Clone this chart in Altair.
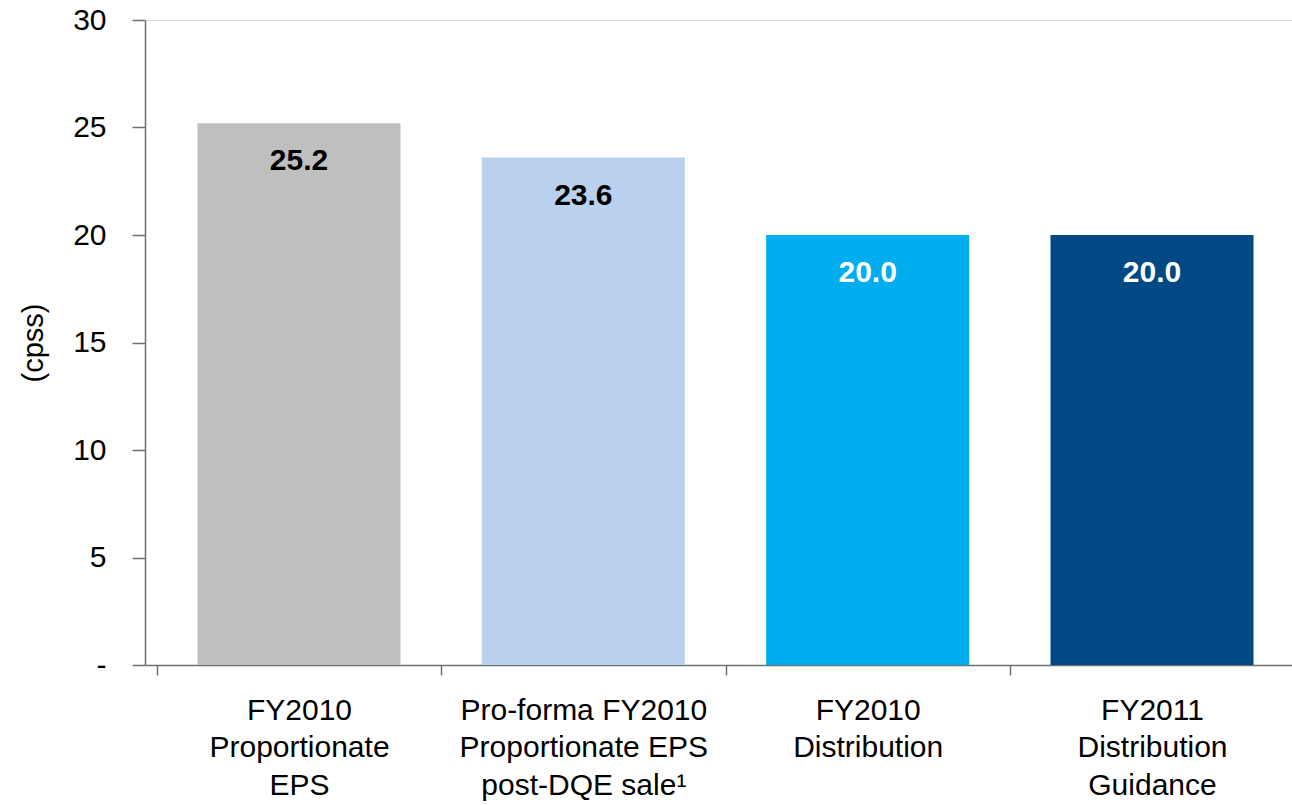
import altair as alt
import pandas as pd

# Earnings and distribution per stapled security (cents)
categories = [
    ["FY2010", "Proportionate", "EPS"],
    ["Pro-forma FY2010", "Proportionate EPS", "post-DQE sale\u00b9"],
    ["FY2010", "Distribution"],
    ["FY2011", "Distribution", "Guidance"],
]
keys = ["a", "b", "c", "d"]
values = [25.2, 23.6, 20.0, 20.0]
bar_colors = ["#BFBFBF", "#B9D0EE", "#00ADEE", "#004985"]
label_colors = ["#000000", "#000000", "#FFFFFF", "#FFFFFF"]
y_ticks = [0, 5, 10, 15, 20, 25, 30]

df = pd.DataFrame({
    "key": keys,
    "value": values,
    "label": [f"{v:.1f}" for v in values],
    "bar_color": bar_colors,
    "label_color": label_colors,
})

# Multi-line category labels looked up from the key
label_map = {k: c for k, c in zip(keys, categories)}
label_expr = " : ".join(
    [f"datum.value == '{k}' ? {c!r}" for k, c in label_map.items()]
) + " : ''"

FONT = "Liberation Sans"

x = alt.X(
    "key:N",
    sort=keys,
    scale=alt.Scale(paddingInner=0.286, paddingOuter=0.16, align=0.577),
    axis=alt.Axis(
        title=None,
        labelExpr=label_expr,
        labelAngle=0,
        labelFontSize=30,
        labelFont=FONT,
        labelColor="#000000",
        labelLineHeight=37.5,
        labelPadding=20,
        labelBaseline="top",
        tickOffset=-142,
        labelOffset=142,
        tickSize=10,
        tickColor="#707070",
        domainColor="#707070",
        tickWidth=1.5,
        domainWidth=1.5,
        labelLimit=400,
    ),
)

y_scale = alt.Scale(domain=[0, 30], nice=False, zero=True)

bars = alt.Chart(df).mark_bar().encode(
    x=x,
    y=alt.Y(
        "value:Q",
        scale=y_scale,
        axis=alt.Axis(
            title="(cpss)",
            titleFont=FONT,
            titleFontSize=29,
            titleFontWeight="normal",
            titleColor="#000000",
            titlePadding=24,
            values=y_ticks,
            labelExpr="datum.value == 0 ? '-' : datum.label",
            labelFont=FONT,
            labelFontSize=30,
            labelColor="#000000",
            labelPadding=26,
            tickSize=13,
            tickColor="#707070",
            domainColor="#707070",
            tickWidth=1.5,
            domainWidth=1.5,
            grid=False,
        ),
    ),
    color=alt.Color("bar_color:N", scale=None, legend=None),
)

labels = alt.Chart(df).mark_text(
    font=FONT, fontSize=30, fontWeight="bold", baseline="middle", dy=38
).encode(
    x=alt.X("key:N", sort=keys),
    y=alt.Y("value:Q", scale=y_scale),
    text="label:N",
    color=alt.Color("label_color:N", scale=None, legend=None),
)

chart = (
    alt.layer(bars, labels)
    .properties(
        width=1147,
        height=645,
        autosize=alt.AutoSizeParams(type="none"),
        padding={"left": 145, "top": 20, "right": 0, "bottom": 140},
    )
    .configure_view(stroke=None)
    .configure(background="white")
)

chart.save("out.html", embed_options={"renderer": "svg", "actions": False})
